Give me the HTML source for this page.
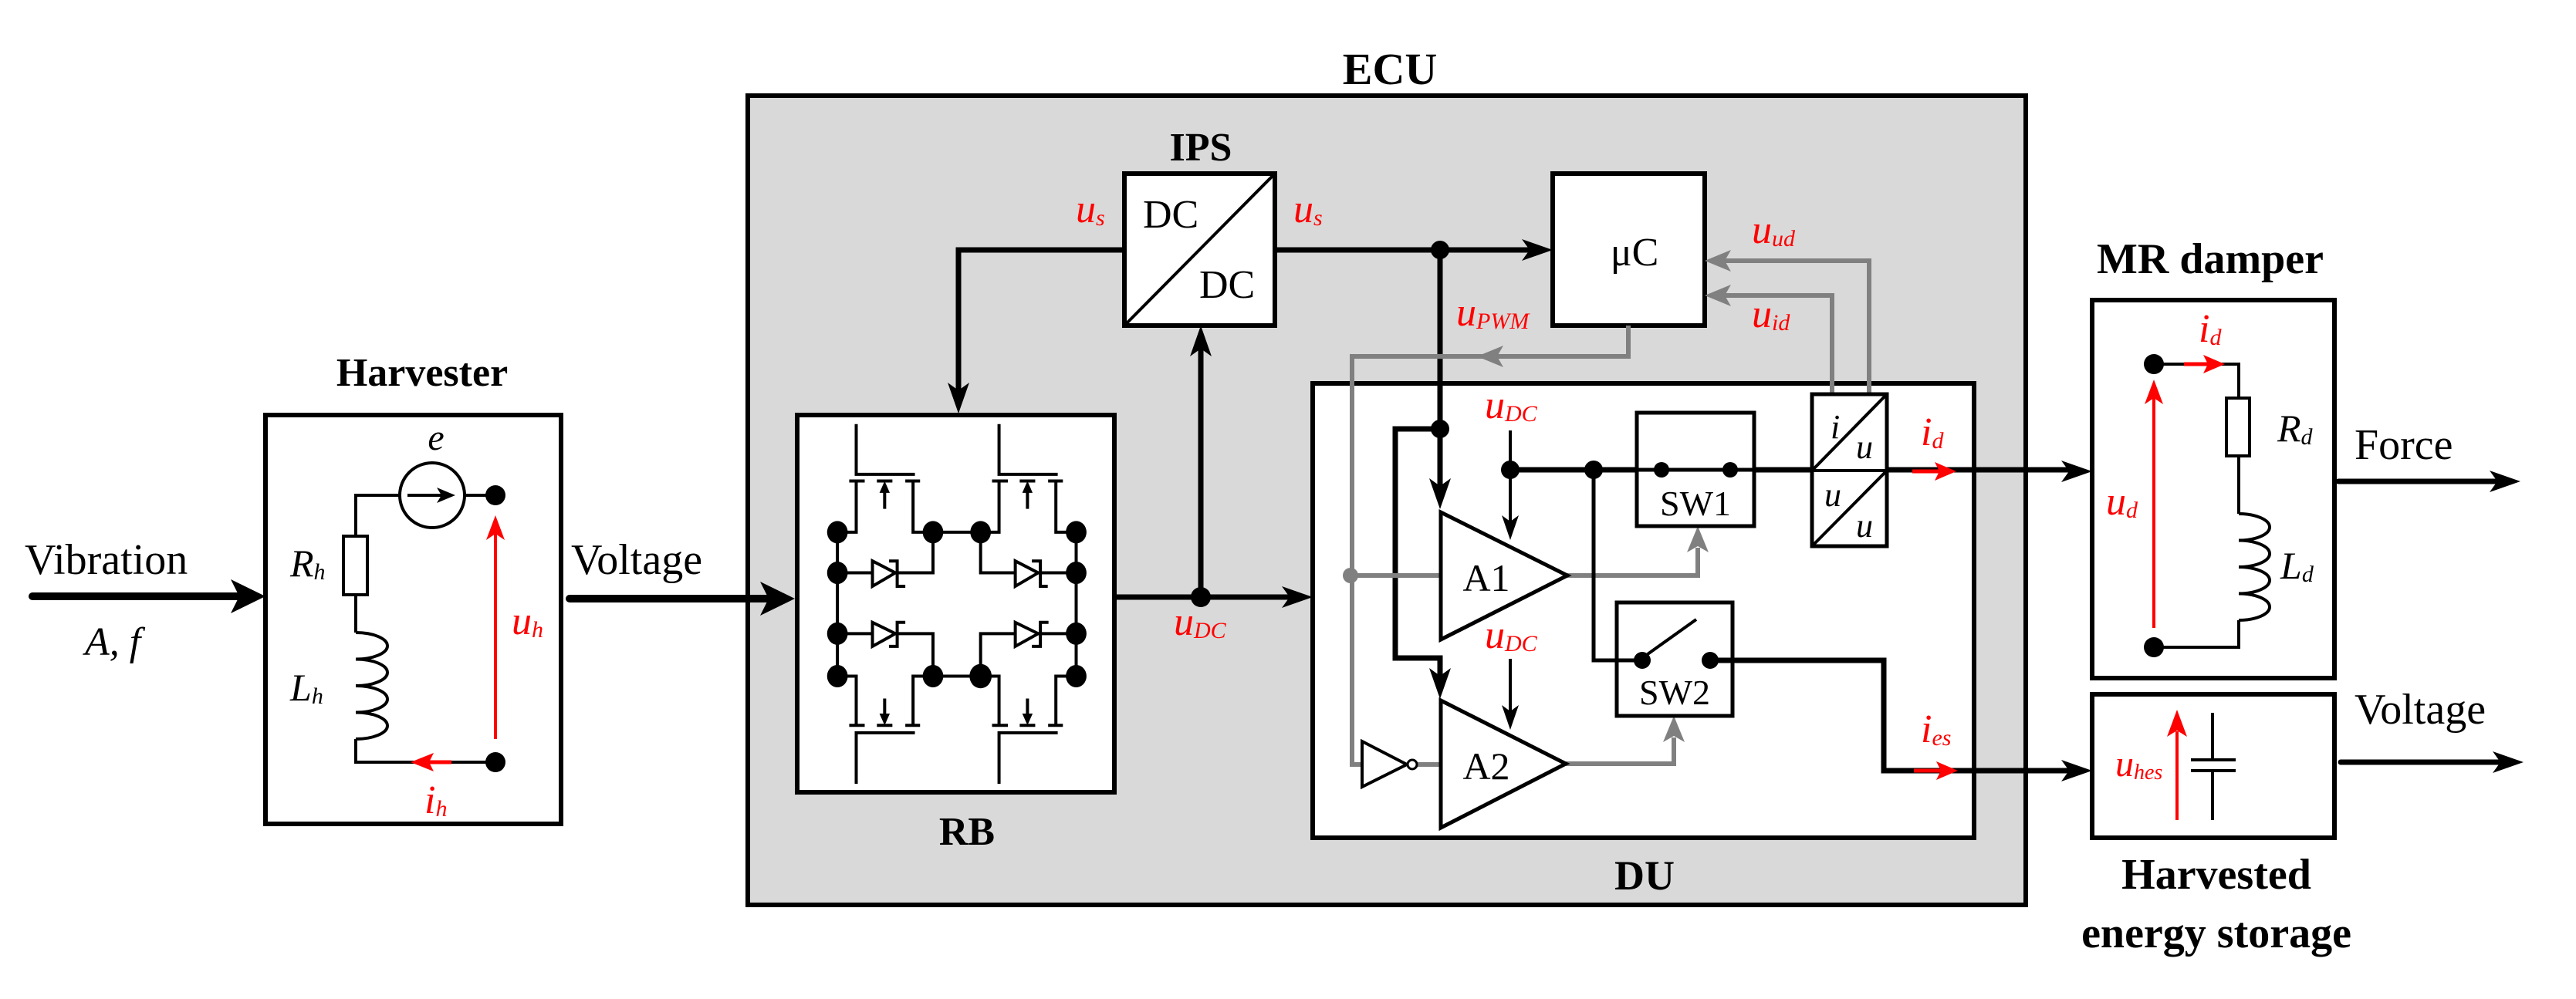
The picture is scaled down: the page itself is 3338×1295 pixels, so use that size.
<!DOCTYPE html>
<html><head><meta charset="utf-8"><style>
html,body{margin:0;padding:0;background:#fff;}
svg{display:block;}
text{font-family:"Liberation Serif",serif;}
.b{font-weight:bold;}
.it{font-style:italic;}
.r{fill:#ff0000;}
</style></head><body>
<svg width="3338" height="1295" viewBox="0 0 3338 1295" xmlns="http://www.w3.org/2000/svg">
<rect width="3338" height="1295" fill="#fff"/>

<!-- ===== Harvester ===== -->
<text x="547" y="500" font-size="52" class="b" text-anchor="middle">Harvester</text>
<rect x="344" y="538" width="383" height="530" fill="#fff" stroke="#000" stroke-width="6"/>
<g stroke="#000" stroke-width="4" fill="none">
<path d="M602 642 H642 M518 642 H461 V695 M461 771 V820"/>
<rect x="445" y="695" width="31" height="76" fill="#fff"/>
<path d="M461 820 A41 17.25 0 0 1 461 854.5 A41 17.25 0 0 1 461 889 A41 17.25 0 0 1 461 923.5 A41 17.25 0 0 1 461 958"/>
<path d="M461 958 V988 H642"/>
<circle cx="560" cy="642" r="42" fill="#fff"/>
<path d="M528 642 H575"/>
</g>
<path d="M590 642 L566 632 L572 642 L566 652Z" fill="#000"/>
<circle cx="642" cy="642" r="13"/><circle cx="642" cy="988" r="13"/>
<path d="M642 958 V692" stroke="#f00" stroke-width="4"/>
<path d="M642 668 L630 700 L642 692 L654 700Z" fill="#f00"/>
<path d="M556 988 H585" stroke="#f00" stroke-width="5"/>
<path d="M532 988 L562 976 L556 988 L562 1000Z" fill="#f00"/>
<text x="565" y="583" font-size="48" class="it" text-anchor="middle">e</text>
<text x="376" y="747" font-size="50" class="it">R<tspan font-size="30" dy="4">h</tspan></text>
<text x="376" y="908" font-size="50" class="it">L<tspan font-size="30" dy="4">h</tspan></text>
<text x="663" y="822" font-size="52" class="it r">u<tspan font-size="30" dy="4">h</tspan></text>
<text x="550" y="1054" font-size="52" class="it r">i<tspan font-size="30" dy="4">h</tspan></text>

<text x="32" y="744" font-size="56">Vibration</text>
<text x="110" y="849" font-size="52" class="it">A, f</text>
<path d="M42 773 H315" stroke="#000" stroke-width="10" stroke-linecap="round"/>
<path d="M344 773 L299 751 L310 773 L299 795Z"/>
<text x="740" y="744" font-size="56">Voltage</text>

<!-- ===== ECU ===== -->
<text x="1801" y="109" font-size="58" class="b" text-anchor="middle">ECU</text>
<rect x="969" y="124" width="1656" height="1049" fill="#d9d9d9" stroke="#000" stroke-width="6"/>
<path d="M738 776 H1000" stroke="#000" stroke-width="10" stroke-linecap="round"/>
<path d="M1030 776 L985 754 L996 776 L985 798Z"/>

<text x="1556" y="208" font-size="52" class="b" text-anchor="middle">IPS</text>
<rect x="1457" y="225" width="195" height="197" fill="#fff" stroke="#000" stroke-width="6"/>
<path d="M1457 422 L1652 225" stroke="#000" stroke-width="4"/>
<text x="1481" y="295" font-size="52">DC</text>
<text x="1554" y="386" font-size="52">DC</text>
<text x="1394" y="288" font-size="52" class="it r">u<tspan font-size="30" dy="4">s</tspan></text>
<text x="1676" y="288" font-size="52" class="it r">u<tspan font-size="30" dy="4">s</tspan></text>

<rect x="2012" y="225" width="197" height="197" fill="#fff" stroke="#000" stroke-width="6"/>
<text x="2118" y="344" font-size="52" text-anchor="middle">μC</text>
<text x="2270" y="315" font-size="52" class="it r">u<tspan font-size="30" dy="4">ud</tspan></text>
<text x="2270" y="424" font-size="52" class="it r">u<tspan font-size="30" dy="4">id</tspan></text>
<text x="1887" y="422" font-size="52" class="it r">u<tspan font-size="30" dy="4">PWM</tspan></text>

<!-- DU box -->
<rect x="1701" y="497" width="857" height="589" fill="#fff" stroke="#000" stroke-width="6"/>
<text x="2131" y="1153" font-size="54" class="b" text-anchor="middle">DU</text>

<!-- black main lines -->
<g stroke="#000" stroke-width="7" fill="none">
<path d="M1457 324 H1242 V510"/>
<path d="M1652 324 H1985"/>
<path d="M1866 324 V635"/>
<path d="M1866 556 H1808 V853 H1866 V880"/>
<path d="M1444 774 H1675"/>
<path d="M1556 774 V450"/>
<path d="M1957 609 H2690"/>
</g>
<path d="M1242 536 L1228 496 L1242 506 L1256 496Z"/>
<path d="M2012 324 L1972 310 L1982 324 L1972 338Z"/>
<path d="M1866 660 L1852 620 L1866 630 L1880 620Z"/>
<path d="M1866 906 L1852 866 L1866 876 L1880 866Z"/>
<path d="M1701 774 L1661 760 L1671 774 L1661 788Z"/>
<path d="M1556 422 L1542 462 L1556 452 L1570 462Z"/>
<path d="M2711 611 L2671 597 L2681 611 L2671 625Z"/>
<circle cx="1866" cy="324" r="12"/>
<circle cx="1866" cy="556" r="12"/>
<circle cx="1556" cy="774" r="13"/>
<text x="1521" y="823" font-size="52" class="it r">u<tspan font-size="30" dy="4">DC</tspan></text>

<!-- gray control lines -->
<g stroke="#808080" stroke-width="6" fill="none">
<path d="M2422 511 V338 H2235"/>
<path d="M2374 511 V383 H2235"/>
<path d="M2110 422 V462 H1752 V991 H1765"/>
<path d="M1750 746 H1867"/>
<path d="M1837 991 H1867"/>
<path d="M2031 746 H2200 V710"/>
<path d="M2029 990 H2169 V956"/>
</g>
<g fill="#808080">
<path d="M2209 338 L2243 324 L2235 338 L2243 352Z"/>
<path d="M2209 383 L2243 369 L2235 383 L2243 397Z"/>
<path d="M1914 462 L1948 448 L1940 462 L1948 476Z"/>
<path d="M2200 682 L2186 716 L2200 708 L2214 716Z"/>
<path d="M2169 928 L2155 962 L2169 954 L2183 962Z"/>
<circle cx="1750" cy="746" r="10"/>
</g>

<!-- amplifiers -->
<polygon points="1867,664 1867,829 2031,746" fill="#fff" stroke="#000" stroke-width="5"/>
<polygon points="1867,908 1867,1073 2029,990" fill="#fff" stroke="#000" stroke-width="5"/>
<text x="1926" y="766" font-size="50" text-anchor="middle">A1</text>
<text x="1926" y="1010" font-size="50" text-anchor="middle">A2</text>
<polygon points="1765,961 1765,1020 1823,991" fill="#fff" stroke="#000" stroke-width="4"/>
<circle cx="1830" cy="991" r="6" fill="#fff" stroke="#000" stroke-width="3"/>

<text x="1924" y="542" font-size="52" class="it r">u<tspan font-size="30" dy="4">DC</tspan></text>
<text x="1924" y="840" font-size="52" class="it r">u<tspan font-size="30" dy="4">DC</tspan></text>
<g stroke="#000" stroke-width="4"><path d="M1957 558 V680 M1957 854 V925"/></g>
<path d="M1957 700 L1946 668 L1957 676 L1968 668Z"/>
<path d="M1957 946 L1946 914 L1957 922 L1968 914Z"/>
<circle cx="1957" cy="609" r="12"/>
<circle cx="2065" cy="609" r="12"/>

<!-- SW1 -->
<rect x="2121" y="535" width="152" height="147" fill="#fff" stroke="#000" stroke-width="5"/>
<path d="M2121 609 H2273" stroke="#000" stroke-width="5"/>
<circle cx="2153" cy="609" r="10"/><circle cx="2242" cy="609" r="10"/>
<text x="2197" y="668" font-size="46" text-anchor="middle">SW1</text>
<!-- SW2 -->
<path d="M2065 609 V856 H2128" stroke="#000" stroke-width="5" fill="none"/>
<rect x="2095" y="781" width="150" height="147" fill="#fff" stroke="#000" stroke-width="5"/>
<path d="M2095 856 H2128" stroke="#000" stroke-width="5"/>
<path d="M2135 848 L2198 803" stroke="#000" stroke-width="4"/>
<circle cx="2128" cy="856" r="11"/><circle cx="2216" cy="856" r="11"/>
<text x="2170" y="913" font-size="46" text-anchor="middle">SW2</text>
<path d="M2216 856 H2441 V999 H2690" stroke="#000" stroke-width="7" fill="none"/>
<path d="M2711 999 L2671 985 L2681 999 L2671 1013Z"/>

<!-- i/u converters -->
<rect x="2348" y="511" width="97" height="197" fill="#fff" stroke="#000" stroke-width="5"/>
<path d="M2348 610 H2445 M2348 610 L2445 511 M2348 708 L2445 610" stroke="#000" stroke-width="4"/>
<text x="2372" y="568" font-size="44" class="it">i</text>
<text x="2405" y="594" font-size="44" class="it">u</text>
<text x="2364" y="656" font-size="44" class="it">u</text>
<text x="2405" y="696" font-size="44" class="it">u</text>

<!-- red current arrows -->
<path d="M2478 611 H2515" stroke="#f00" stroke-width="5"/>
<path d="M2535 611 L2507 599 L2513 611 L2507 623Z" fill="#f00"/>
<text x="2489" y="577" font-size="52" class="it r">i<tspan font-size="30" dy="4">d</tspan></text>
<path d="M2480 999 H2517" stroke="#f00" stroke-width="5"/>
<path d="M2537 999 L2509 987 L2515 999 L2509 1011Z" fill="#f00"/>
<text x="2489" y="962" font-size="52" class="it r">i<tspan font-size="30" dy="4">es</tspan></text>

<!-- ===== RB ===== -->
<rect x="1033" y="538" width="411" height="489" fill="#fff" stroke="#000" stroke-width="6"/>
<text x="1253" y="1095" font-size="52" class="b" text-anchor="middle">RB</text>
<g transform="translate(1000,500) scale(0.4782,0.4146)">
<g stroke="#000" stroke-width="4" fill="none" vector-effect="non-scaling-stroke">
<path vector-effect="non-scaling-stroke" d="M229 120 V277 H388 M210 298 H252 M285 298 H327 M362 298 H402 M229 298 V458 H178 M383 298 V458 H437 M306 385 V320
M616 120 V277 H775 M597 298 H640 M672 298 H714 M749 298 H789 M616 298 V458 H566 M770 298 V458 H825 M693 385 V320
M437 458 H566 M178 458 V908 M825 458 V908 M178 585 H437 V458 M566 458 V585 H825 M178 775 H437 V908 M566 908 V775 H825 M437 908 H566
M229 1245 V1085 H388 M210 1062 H252 M285 1062 H327 M362 1062 H402 M229 1062 V908 H178 M383 1062 V908 H437 M306 978 V1040
M616 1245 V1085 H775 M597 1062 H640 M672 1062 H714 M749 1062 H789 M616 1062 V908 H566 M770 1062 V908 H825 M693 978 V1040
M318 548 H340 V627 H362 M705 548 H728 V627 H748 M318 815 H340 V740 H362 M705 815 H728 V740 H750"/>
<polygon vector-effect="non-scaling-stroke" fill="#fff" points="273,548 273,627 335,585"/>
<polygon vector-effect="non-scaling-stroke" fill="#fff" points="660,548 660,627 722,585"/>
<polygon vector-effect="non-scaling-stroke" fill="#fff" points="273,740 273,815 335,775"/>
<polygon vector-effect="non-scaling-stroke" fill="#fff" points="660,740 660,815 722,775"/>
</g>
<g fill="#000">
<polygon points="306,298 292,335 320,335"/><polygon points="693,298 679,335 707,335"/>
<polygon points="306,1062 292,1025 320,1025"/><polygon points="693,1062 679,1025 707,1025"/>
<ellipse cx="178" cy="458" rx="28" ry="35"/><ellipse cx="437" cy="458" rx="28" ry="35"/>
<ellipse cx="566" cy="458" rx="28" ry="35"/><ellipse cx="825" cy="458" rx="28" ry="35"/>
<ellipse cx="178" cy="585" rx="28" ry="35"/><ellipse cx="825" cy="585" rx="28" ry="35"/>
<ellipse cx="178" cy="775" rx="28" ry="35"/><ellipse cx="825" cy="775" rx="28" ry="35"/>
<ellipse cx="178" cy="908" rx="28" ry="35"/><ellipse cx="437" cy="908" rx="28" ry="35"/>
<ellipse cx="566" cy="908" rx="30" ry="38"/><ellipse cx="825" cy="908" rx="28" ry="35"/>
</g>
</g>

<!-- ===== MR damper ===== -->
<text x="2864" y="354" font-size="56" class="b" text-anchor="middle">MR damper</text>
<rect x="2711" y="389" width="314" height="490" fill="#fff" stroke="#000" stroke-width="6"/>
<g stroke="#000" stroke-width="4" fill="none">
<path d="M2791 472 H2901 V516 M2901 591 V666"/>
<rect x="2885" y="516" width="30" height="75" fill="#fff"/>
<path d="M2901 666 A40 17.25 0 0 1 2901 700.5 A40 17.25 0 0 1 2901 735 A40 17.25 0 0 1 2901 769.5 A40 17.25 0 0 1 2901 804"/>
<path d="M2901 804 V839 H2791"/>
</g>
<path d="M2830 472 H2862" stroke="#f00" stroke-width="5"/>
<path d="M2883 472 L2855 460 L2861 472 L2855 484Z" fill="#f00"/>
<circle cx="2791" cy="472" r="13"/><circle cx="2791" cy="839" r="13"/>
<path d="M2791 814 V516" stroke="#f00" stroke-width="4"/>
<path d="M2791 492 L2779 524 L2791 516 L2803 524Z" fill="#f00"/>
<text x="2729" y="667" font-size="52" class="it r">u<tspan font-size="30" dy="4">d</tspan></text>
<text x="2849" y="443" font-size="52" class="it r">i<tspan font-size="30" dy="4">d</tspan></text>
<text x="2951" y="572" font-size="50" class="it">R<tspan font-size="30" dy="4">d</tspan></text>
<text x="2955" y="750" font-size="50" class="it">L<tspan font-size="30" dy="4">d</tspan></text>
<text x="3051" y="595" font-size="56">Force</text>
<path d="M3030 624 H3240" stroke="#000" stroke-width="7" stroke-linecap="round"/>
<path d="M3266 624 L3226 610 L3236 624 L3226 638Z"/>

<!-- ===== Storage ===== -->
<rect x="2711" y="900" width="314" height="186" fill="#fff" stroke="#000" stroke-width="6"/>
<path d="M2867 924 V985 M2839 985 H2897 M2839 999 H2897 M2867 999 V1063" stroke="#000" stroke-width="4"/>
<path d="M2821 1063 V948" stroke="#f00" stroke-width="4"/>
<path d="M2821 920 L2808 955 L2821 947 L2834 955Z" fill="#f00"/>
<text x="2741" y="1006" font-size="48" class="it r">u<tspan font-size="28" dy="4">hes</tspan></text>
<text x="3051" y="938" font-size="56">Voltage</text>
<path d="M3033 988 H3244" stroke="#000" stroke-width="7" stroke-linecap="round"/>
<path d="M3270 988 L3230 974 L3240 988 L3230 1002Z"/>
<text x="2872" y="1152" font-size="56" class="b" text-anchor="middle">Harvested</text>
<text x="2872" y="1228" font-size="56" class="b" text-anchor="middle">energy storage</text>
</svg>
</body></html>
